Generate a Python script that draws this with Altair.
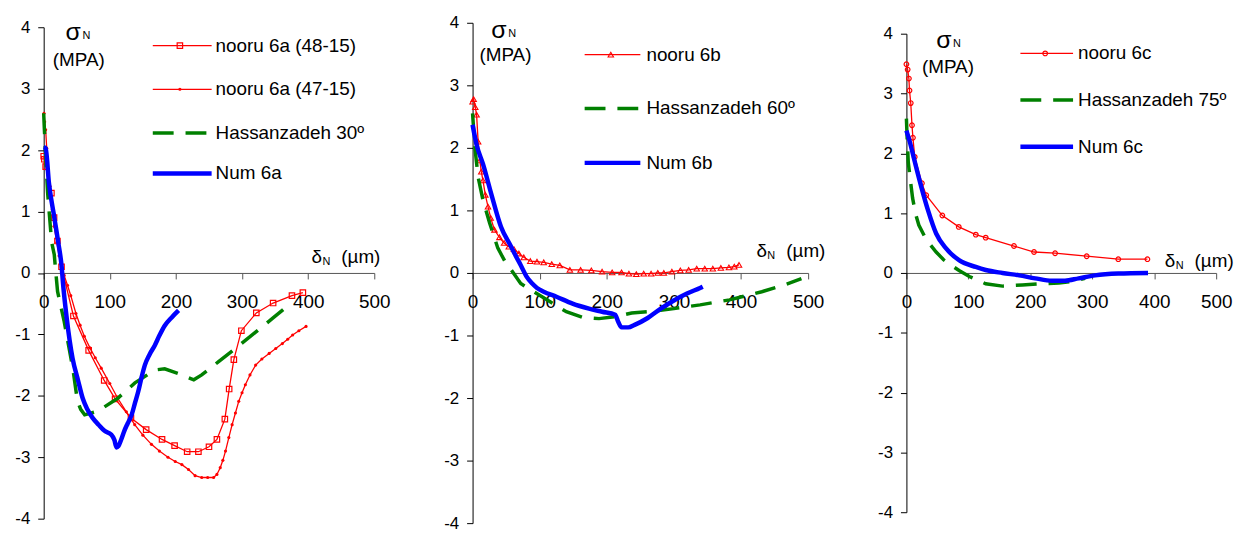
import altair as alt
import pandas as pd

# ---------------- Panel 6a ----------------
a_n48_x = [0, 1, 3, 11.7, 15.7, 20.8, 27, 45, 68, 91.5, 108, 132, 155, 179, 198, 217,
           234, 250, 262, 274, 280.5, 287.6, 299, 321.6, 347, 375.5, 392]
a_n48_y = [1.9, 1.85, 1.73, 1.3, 0.9, 0.52, 0.1, -0.7, -1.26, -1.75, -2.05, -2.36, -2.55,
           -2.71, -2.81, -2.91, -2.91, -2.83, -2.71, -2.38, -1.89, -1.41, -0.94, -0.65,
           -0.49, -0.37, -0.32]

a_n47_x = [0.5, 1.5, 3, 4.6, 5.6, 9.6, 11.7, 13, 15.7, 19.8, 23.3, 27, 31, 36, 41, 48.8,
           55, 61.5, 70, 78, 87, 100, 112, 125, 137.7, 150, 163, 175, 188, 199, 209, 219,
           229, 239, 248, 257, 262, 267, 271, 275, 280, 285, 290, 295, 300, 305, 312,
           320.6, 330, 341, 351, 361, 369, 376.5, 386, 396.8]
a_n47_y = [2.6, 2.46, 2.33, 2.03, 1.68, 1.41, 1.2, 1.03, 0.76, 0.5, 0.28, 0.09, -0.04,
           -0.2, -0.37, -0.66, -0.85, -1.03, -1.22, -1.38, -1.55, -1.8, -2.04, -2.26,
           -2.47, -2.64, -2.79, -2.9, -3.0, -3.07, -3.12, -3.2, -3.3, -3.33, -3.33, -3.33,
           -3.28, -3.17, -3.05, -2.9, -2.68, -2.47, -2.28, -2.09, -1.95, -1.82, -1.66,
           -1.5, -1.4, -1.31, -1.23, -1.15, -1.08, -1.01, -0.94, -0.87]

a_has_x = [0, 1, 4, 6, 9, 12, 16, 18, 21, 25, 31, 38, 44, 51, 56, 62, 82, 112, 138, 168,
           183, 204, 227, 239, 265, 290, 321, 346, 364]
a_has_y = [2.6, 2.35, 1.7, 1.3, 0.9, 0.5, 0.3, 0.05, -0.3, -0.5, -0.79, -1.2, -1.55, -2.08,
           -2.22, -2.31, -2.25, -2.04, -1.79, -1.58, -1.56, -1.64, -1.74, -1.66, -1.44,
           -1.23, -0.96, -0.74, -0.58]

a_num_x = [0, 3, 8, 15.7, 22, 27, 29.5, 35, 43.7, 52, 59, 66, 74, 83, 92, 102, 107, 110,
           113, 117, 122, 127, 133, 138, 143, 148, 153, 160, 168, 175, 183, 194, 204]
a_num_y = [2.05, 2.03, 1.46, 0.93, 0.5, 0.12, -0.2, -0.75, -1.39, -1.75, -2.04, -2.22,
           -2.36, -2.47, -2.57, -2.63, -2.72, -2.84, -2.82, -2.72, -2.57, -2.45, -2.31,
           -2.12, -1.93, -1.7, -1.5, -1.33, -1.18, -1.02, -0.86, -0.72, -0.61]

# ---------------- Panel 6b ----------------
b_noo_x = [0, 1.6, 4, 6, 8.3, 10.8, 13, 15.5, 19, 23, 27, 32.6, 40, 47, 54, 61.7, 69, 76.3,
           86, 96, 106, 118, 130, 145, 161, 177, 193, 208, 222, 233, 244, 255, 266, 276,
           285, 297, 309.6, 322, 334, 346, 358, 370, 382, 390, 397]
b_noo_y = [2.74, 2.78, 2.65, 2.53, 2.1, 1.8, 1.62, 1.48, 1.25, 1.06, 0.88, 0.69, 0.57, 0.48,
           0.42, 0.38, 0.31, 0.25, 0.19, 0.18, 0.17, 0.14, 0.12, 0.05, 0.05, 0.04, 0.02,
           0.01, 0.01, -0.01, -0.02, -0.01, -0.01, 0.0, 0.0, 0.02, 0.04, 0.05, 0.07, 0.07,
           0.07, 0.08, 0.09, 0.1, 0.13]

b_has_x = [0, 3.5, 8.3, 15.6, 25.4, 37.5, 52, 57, 71.7, 91, 115.6, 139.7, 164, 188.5,
           212.5, 237, 261, 300, 339, 383, 431, 465, 490]
b_has_y = [2.55, 2.0, 1.53, 1.16, 0.8, 0.4, 0.11, 0.06, -0.17, -0.3, -0.46, -0.62, -0.71,
           -0.73, -0.7, -0.64, -0.62, -0.57, -0.51, -0.43, -0.3, -0.19, -0.09]

b_num_x = [0, 6, 15.6, 27.7, 42.3, 56.9, 64, 72, 80, 88.9, 96, 106, 125, 149, 173.5, 193,
           212.5, 217, 222, 232, 241.5, 261, 280.5, 300, 319.5, 339, 343]
b_num_y = [2.37, 2.05, 1.74, 1.27, 0.74, 0.43, 0.28, 0.12, -0.05, -0.17, -0.24, -0.3,
           -0.38, -0.49, -0.57, -0.62, -0.67, -0.78, -0.87, -0.87, -0.83, -0.72, -0.57,
           -0.44, -0.33, -0.24, -0.22]

# ---------------- Panel 6c ----------------
c_noo_x = [0, 2, 4, 5, 7, 9, 10.5, 13.4, 25, 32, 58, 84.5, 112, 128, 173.6, 206, 240, 291,
           342, 389]
c_noo_y = [3.49, 3.4, 3.25, 3.05, 2.84, 2.47, 2.26, 1.94, 1.5, 1.3, 0.96, 0.77, 0.64, 0.59,
           0.45, 0.35, 0.33, 0.28, 0.23, 0.23]

c_has_x = [0, 1, 3, 7, 10, 15, 20, 29, 38, 48, 60, 72, 85, 101.6, 128, 155, 187, 219, 246,
           267, 288.5]
c_has_y = [2.58, 2.3, 1.85, 1.5, 1.25, 0.98, 0.8, 0.62, 0.48, 0.35, 0.22, 0.13, 0.04, -0.06,
           -0.18, -0.22, -0.2, -0.18, -0.17, -0.14, -0.09]

c_num_x = [0, 5, 13, 24, 34.8, 48, 64, 85.5, 112, 128, 155, 182, 208, 235, 256, 278, 304.5,
           342, 390]
c_num_y = [2.38, 2.21, 1.88, 1.44, 1.05, 0.66, 0.41, 0.21, 0.1, 0.05, 0.0, -0.04, -0.09,
           -0.13, -0.13, -0.09, -0.04, -0.01, 0.0]

x_ticks = [0, 100, 200, 300, 400, 500]
y_ticks = [-4, -3, -2, -1, 0, 1, 2, 3, 4]

FONT = "Liberation Sans"
RED, GREEN, BLUE = "#ff0000", "#008000", "#0000ff"
DASH = [21, 12]


def style(kind, marker=None):
    if kind == "red":
        return dict(color=RED, width=1.3, dash=None, marker=marker)
    if kind == "green":
        return dict(color=GREEN, width=3.5, dash=DASH, marker=None)
    return dict(color=BLUE, width=4.5, dash=None, marker=None)


SQUARE = dict(shape="square", size=30, filled=False, strokeWidth=1.2)
DOT = dict(shape="circle", size=10, filled=True, strokeWidth=0)
TRI = dict(shape="triangle-up", size=30, filled=False, strokeWidth=1.1)
RING = dict(shape="circle", size=22, filled=False, strokeWidth=1.2)


def panel(series, width, height, legend, ylab, xlab):
    xenc = alt.X("x:Q", scale=alt.Scale(domain=[0, 500], nice=False, zero=False),
                 axis=alt.Axis(values=x_ticks, orient="bottom", offset=-height / 2,
                               title=None, grid=False, labelFlush=False,
                               labelFontSize=19, labelFont=FONT, labelColor="black",
                               labelPadding=14, tickSize=6, tickColor="#555",
                               domainColor="#555", domainWidth=1, labelOverlap=False))
    yenc = alt.Y("y:Q", scale=alt.Scale(domain=[-4, 4], nice=False, zero=False),
                 axis=alt.Axis(values=y_ticks, title=None, grid=False,
                               labelFontSize=17, labelFont=FONT, labelColor="black",
                               labelPadding=8, tickSize=6, tickColor="black",
                               domainColor="black", domainWidth=1,
                               labelExpr="'' + datum.value"))
    layers = []
    legend_rows = []
    for (name, xs, ys, st), ly in zip(series, legend["rows"]):
        df = pd.DataFrame({"x": xs, "y": ys, "i": list(range(len(xs)))})
        lkw = dict(color=st["color"], strokeWidth=st["width"], interpolate="monotone"
                   if st["color"] == BLUE else "linear")
        if st["dash"]:
            lkw["strokeDash"] = st["dash"]
        layers.append(alt.Chart(df).mark_line(**lkw).encode(x=xenc, y=yenc, order="i:Q"))
        if st["marker"]:
            layers.append(alt.Chart(df).mark_point(color=st["color"], opacity=1,
                                                   **st["marker"]).encode(x=xenc, y=yenc))
        legend_rows.append((name, ly, st))

    # legend samples and labels
    x1, x2, xm, xt = legend["x"]
    for name, ly, st in legend_rows:
        seg = pd.DataFrame({"x": [x1], "x2": [x2], "y": [ly]})
        rkw = dict(color=st["color"], strokeWidth=st["width"])
        if st["dash"]:
            rkw["strokeDash"] = st["dash"]
        layers.append(alt.Chart(seg).mark_rule(**rkw).encode(x=xenc, x2="x2:Q", y=yenc))
        if st["marker"]:
            mk = pd.DataFrame({"x": [xm], "y": [ly]})
            layers.append(alt.Chart(mk).mark_point(color=st["color"], opacity=1,
                                                   **st["marker"]).encode(x=xenc, y=yenc))
        tx = pd.DataFrame({"x": [xt], "y": [ly], "t": [name]})
        layers.append(alt.Chart(tx).mark_text(align="left", baseline="middle", font=FONT,
                                              fontSize=19, color="black")
                      .encode(x=xenc, y=yenc, text="t:N"))

    # axis captions
    def txt(x, y, t, size, dx=0, dy=0, align="left"):
        d = pd.DataFrame({"x": [x], "y": [y], "t": [t]})
        return alt.Chart(d).mark_text(align=align, baseline="middle", font=FONT,
                                      fontSize=size, color="black", dx=dx, dy=dy) \
            .encode(x=xenc, y=yenc, text="t:N")

    sx, sy, mx, my = ylab
    layers += [txt(sx, sy, "σ", 25), txt(sx, sy, "N", 11, dx=17, dy=4),
               txt(mx, my, "(MPA)", 19, align="center")]
    dx_, dy_ = xlab
    layers += [txt(dx_, dy_, "δ", 19), txt(dx_, dy_, "N", 11, dx=11, dy=5),
               txt(dx_, dy_, "(µm)", 19, dx=30)]

    return alt.layer(*layers).properties(width=width, height=height)


p1 = panel(
    [("nooru 6a (48-15)", a_n48_x, a_n48_y, style("red", SQUARE)),
     ("nooru 6a (47-15)", a_n47_x, a_n47_y, style("red", DOT)),
     ("Hassanzadeh 30º", a_has_x, a_has_y, style("green")),
     ("Num 6a", a_num_x, a_num_y, style("blue"))],
    333, 495,
    {"x": (165, 254, 206, 260), "rows": [3.70, 2.99, 2.28, 1.62]},
    (33, 3.92, 53, 3.46), (405, 0.26))

p2 = panel(
    [("nooru 6b", b_noo_x, b_noo_y, style("red", TRI)),
     ("Hassanzadeh 60º", b_has_x, b_has_y, style("green")),
     ("Num 6b", b_num_x, b_num_y, style("blue"))],
    338, 504,
    {"x": (167, 250, 206, 259), "rows": [3.49, 2.63, 1.76]},
    (28, 3.88, 49, 3.49), (423, 0.35))

p3 = panel(
    [("nooru 6c", c_noo_x, c_noo_y, style("red", RING)),
     ("Hassanzadeh 75º", c_has_x, c_has_y, style("green")),
     ("Num 6c", c_num_x, c_num_y, style("blue"))],
    312, 482,
    {"x": (184, 269, 224, 277), "rows": [3.67, 2.89, 2.11]},
    (48, 3.9, 67, 3.45), (417, 0.2))

chart = alt.hconcat(p1, p2, p3, spacing=99, bounds="flush", center=True) \
    .configure_view(strokeWidth=0) \
    .properties(background="white",
                padding={"left": 14, "top": 12, "right": 5, "bottom": 0})

chart.save("out.html", embed_options={"renderer": "svg", "actions": False})
